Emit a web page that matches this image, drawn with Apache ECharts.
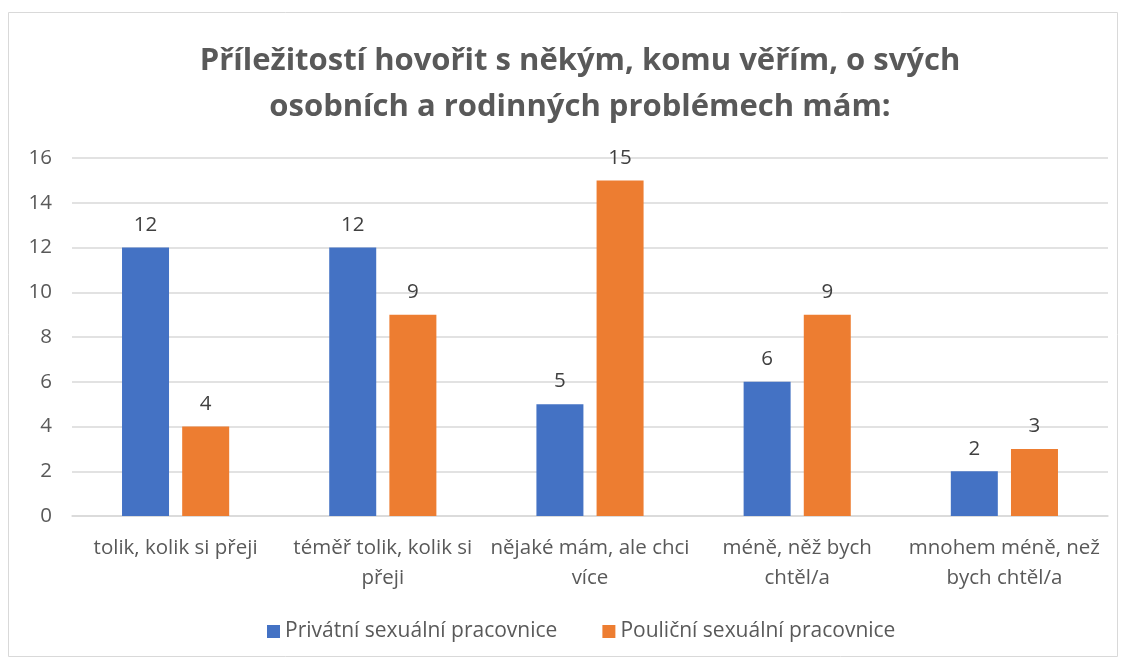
<!DOCTYPE html>
<html><head><meta charset="utf-8">
<script src="https://cdn.jsdelivr.net/npm/echarts@6/dist/echarts.min.js"></script>
<style>html,body{margin:0;padding:0;background:#fff}#c{width:1126px;height:660px}</style>
</head><body><div id="c"></div>
<script>
const titleText = 'Příležitostí hovořit s někým, komu věřím, o svých\nosobních a rodinných problémech mám:';
const categories = ['tolik, kolik si přeji', 'téměř tolik, kolik si\npřeji', 'nějaké mám, ale chci\nvíce', 'méně, něž bych\nchtěl/a', 'mnohem méně, než\nbych chtěl/a'];
const seriesNames = ['Privátní sexuální pracovnice', 'Pouliční sexuální pracovnice'];
const privatni = [12, 12, 5, 6, 2];
const poulicni = [4, 9, 15, 9, 3];
const yTicks = {min: 0, max: 16, interval: 2};

const font = '"Open Sans", sans-serif';
const chart = echarts.init(document.getElementById('c'));
const labelCfg = {show: true, position: 'top', distance: 12, color: '#404040', fontSize: 20.5, fontFamily: font};
chart.setOption({
  animation: false,
  textStyle: {fontFamily: font},
  graphic: [{type: 'rect', shape: {x: 8.5, y: 12.5, width: 1109, height: 644}, style: {fill: 'none', stroke: '#d9d9d9', lineWidth: 1}, silent: true}],
  title: {text: titleText, left: 575, textAlign: 'center', top: 33, textStyle: {fontSize: 31, fontWeight: 'bold', color: '#595959', fontFamily: font, lineHeight: 46}},
  legend: {bottom: 13, left: 262, itemWidth: 13, itemHeight: 13, itemGap: 45, itemStyle: {borderWidth: 0}, icon: 'rect', textStyle: {fontSize: 21, color: '#595959', fontFamily: font}, data: seriesNames},
  grid: {left: 72, right: 18, top: 158, bottom: 144},
  xAxis: {type: 'category', data: categories, axisLine: {lineStyle: {color: '#d9d9d9', width: 1.5}}, axisTick: {show: false},
    axisLabel: {color: '#595959', fontSize: 20.5, fontFamily: font, margin: 17, lineHeight: 30, interval: 0}},
  yAxis: {type: 'value', min: yTicks.min, max: yTicks.max, interval: yTicks.interval, axisLine: {show: false}, axisTick: {show: false},
    axisLabel: {color: '#595959', fontSize: 20.5, fontFamily: font, margin: 20}, splitLine: {lineStyle: {color: '#d9d9d9', width: 1.5}}},
  series: [
    {name: seriesNames[0], type: 'bar', data: privatni, barWidth: 47, barGap: '28%', itemStyle: {color: '#4472c4'}, label: labelCfg},
    {name: seriesNames[1], type: 'bar', data: poulicni, barWidth: 47, barGap: '28%', itemStyle: {color: '#ed7d31'}, label: labelCfg}
  ]
});
</script></body></html>
